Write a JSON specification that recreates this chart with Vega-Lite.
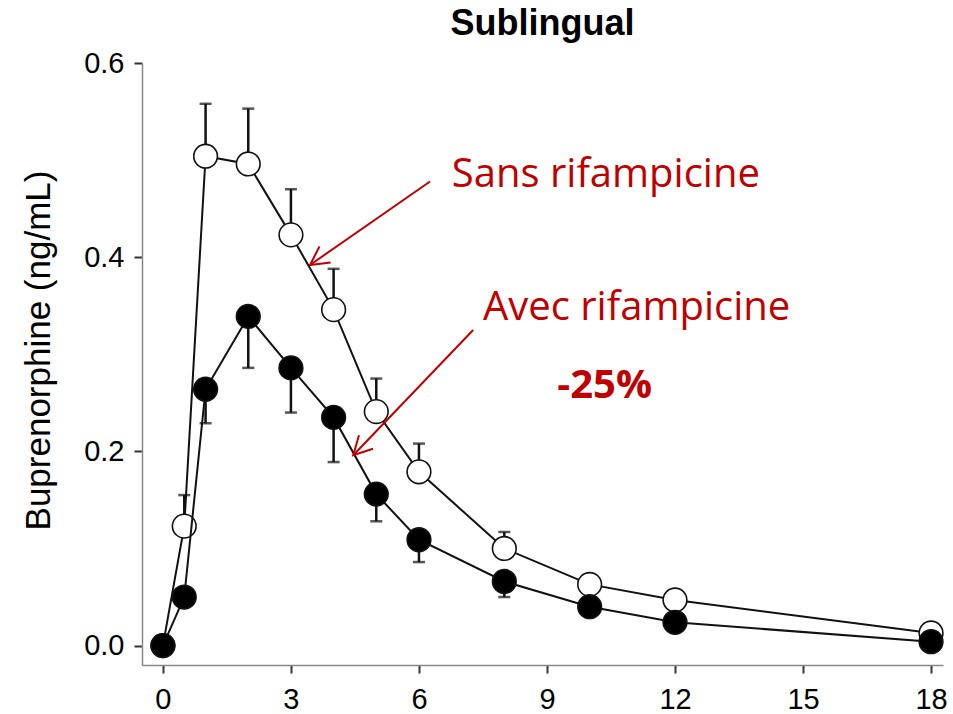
{
  "$schema": "https://vega.github.io/schema/vega-lite/v6.json",
  "width": 801,
  "height": 602,
  "autosize": {"type": "none"},
  "padding": {"left": 142, "top": 63, "right": 10, "bottom": 49},
  "background": "white",
  "config": {
    "view": {"stroke": null},
    "font": "Liberation Sans"
  },
  "title": {
    "text": "Sublingual",
    "font": "Liberation Sans",
    "fontSize": 36,
    "fontWeight": "bold",
    "color": "black",
    "anchor": "middle",
    "frame": "group",
    "baseline": "alphabetic",
    "offset": 30,
    "dy": 52
  },
  "datasets": {
    "pk": [
      {"series": "Sans rifampicine", "t": 0, "v": 0.0, "err": null},
      {"series": "Sans rifampicine", "t": 0.5, "v": 0.123, "err": 0.155},
      {"series": "Sans rifampicine", "t": 1, "v": 0.504, "err": 0.558},
      {"series": "Sans rifampicine", "t": 2, "v": 0.496, "err": 0.553},
      {"series": "Sans rifampicine", "t": 3, "v": 0.423, "err": 0.47},
      {"series": "Sans rifampicine", "t": 4, "v": 0.346, "err": 0.388},
      {"series": "Sans rifampicine", "t": 5, "v": 0.241, "err": 0.275},
      {"series": "Sans rifampicine", "t": 6, "v": 0.179, "err": 0.208},
      {"series": "Sans rifampicine", "t": 8, "v": 0.1, "err": 0.117},
      {"series": "Sans rifampicine", "t": 10, "v": 0.063, "err": null},
      {"series": "Sans rifampicine", "t": 12, "v": 0.047, "err": null},
      {"series": "Sans rifampicine", "t": 18, "v": 0.013, "err": null},
      {"series": "Avec rifampicine", "t": 0, "v": 0.0, "err": null},
      {"series": "Avec rifampicine", "t": 0.5, "v": 0.05, "err": null},
      {"series": "Avec rifampicine", "t": 1, "v": 0.264, "err": 0.229},
      {"series": "Avec rifampicine", "t": 2, "v": 0.339, "err": 0.286},
      {"series": "Avec rifampicine", "t": 3, "v": 0.286, "err": 0.24},
      {"series": "Avec rifampicine", "t": 4, "v": 0.235, "err": 0.189},
      {"series": "Avec rifampicine", "t": 5, "v": 0.156, "err": 0.128},
      {"series": "Avec rifampicine", "t": 6, "v": 0.109, "err": 0.086},
      {"series": "Avec rifampicine", "t": 8, "v": 0.066, "err": 0.05},
      {"series": "Avec rifampicine", "t": 10, "v": 0.04, "err": null},
      {"series": "Avec rifampicine", "t": 12, "v": 0.024, "err": null},
      {"series": "Avec rifampicine", "t": 18, "v": 0.004, "err": null}
    ],
    "notes": [
      {"label": "Sans rifampicine", "t": 6.77, "v": 0.472},
      {"label": "Avec rifampicine", "t": 7.5, "v": 0.335},
      {"label": "-25%", "t": 10.35, "v": 0.255}
    ],
    "arrows": [
      {"arrow": "sans", "t0": 6.26, "v0": 0.478, "t1": 3.447, "v1": 0.392},
      {"arrow": "avec", "t0": 7.27, "v0": 0.325, "t1": 4.46, "v1": 0.196}
    ]
  },
  "encoding": {
    "x": {
      "field": "t",
      "type": "quantitative",
      "scale": {"domain": [-0.49, 18.28], "nice": false, "zero": false},
      "axis": {
        "title": null,
        "values": [0, 3, 6, 9, 12, 15, 18],
        "grid": false,
        "labelFont": "Liberation Sans",
        "labelFontSize": 29,
        "labelColor": "black",
        "labelPadding": 12,
        "tickSize": 8,
        "tickWidth": 2,
        "tickColor": "#333333",
        "domainColor": "#888888",
        "domainWidth": 1.5,
        "labelFlush": false
      }
    },
    "y": {
      "field": "v",
      "type": "quantitative",
      "scale": {"domain": [-0.02, 0.6], "nice": false, "zero": false},
      "axis": {
        "title": "Buprenorphine (ng/mL)",
        "titleFont": "Liberation Sans",
        "titleFontSize": 35,
        "titleFontWeight": "normal",
        "titleColor": "black",
        "titlePadding": 27,
        "titleY": 287,
        "values": [0, 0.2, 0.4, 0.6],
        "format": ".1f",
        "grid": false,
        "labelFont": "Liberation Sans",
        "labelFontSize": 29,
        "labelColor": "black",
        "labelPadding": 10,
        "tickSize": 8,
        "tickWidth": 2,
        "tickColor": "#333333",
        "domainColor": "#888888",
        "domainWidth": 1.5,
        "labelFlush": false
      }
    }
  },
  "layer": [
    {
      "data": {"name": "pk"},
      "transform": [{"filter": "datum.series === 'Sans rifampicine'"}],
      "mark": {"type": "line", "color": "#111111", "strokeWidth": 2},
      "encoding": {"order": {"field": "t"}}
    },
    {
      "data": {"name": "pk"},
      "transform": [{"filter": "datum.series === 'Sans rifampicine' && datum.err != null"}],
      "mark": {"type": "rule", "color": "#111111", "strokeWidth": 2.5},
      "encoding": {"y2": {"field": "err"}}
    },
    {
      "data": {"name": "pk"},
      "transform": [{"filter": "datum.series === 'Sans rifampicine' && datum.err != null"}],
      "mark": {"type": "point", "shape": "stroke", "filled": false, "size": 144, "color": "#111111", "strokeWidth": 2.5},
      "encoding": {"y": {"field": "err", "type": "quantitative"}}
    },
    {
      "data": {"name": "pk"},
      "transform": [{"filter": "datum.series === 'Sans rifampicine'"}],
      "mark": {"type": "point", "shape": "circle", "filled": true, "fill": "white", "stroke": "#111111", "strokeWidth": 1.6, "size": 560, "opacity": 1}
    },
    {
      "data": {"name": "pk"},
      "transform": [{"filter": "datum.series === 'Avec rifampicine'"}],
      "mark": {"type": "line", "color": "#111111", "strokeWidth": 2},
      "encoding": {"order": {"field": "t"}}
    },
    {
      "data": {"name": "pk"},
      "transform": [{"filter": "datum.series === 'Avec rifampicine' && datum.err != null"}],
      "mark": {"type": "rule", "color": "#111111", "strokeWidth": 2.5},
      "encoding": {"y2": {"field": "err"}}
    },
    {
      "data": {"name": "pk"},
      "transform": [{"filter": "datum.series === 'Avec rifampicine' && datum.err != null"}],
      "mark": {"type": "point", "shape": "stroke", "filled": false, "size": 144, "color": "#111111", "strokeWidth": 2.5},
      "encoding": {"y": {"field": "err", "type": "quantitative"}}
    },
    {
      "data": {"name": "pk"},
      "transform": [{"filter": "datum.series === 'Avec rifampicine'"}],
      "mark": {"type": "point", "shape": "circle", "filled": true, "fill": "black", "stroke": "#111111", "strokeWidth": 1.6, "size": 560, "opacity": 1}
    },
    {
      "data": {"name": "arrows"},
      "mark": {"type": "rule", "color": "#C00000", "strokeWidth": 2},
      "encoding": {
        "x": {"field": "t0", "type": "quantitative"},
        "y": {"field": "v0", "type": "quantitative"},
        "x2": {"field": "t1"},
        "y2": {"field": "v1"}
      }
    },
    {
      "data": {"name": "arrows"},
      "mark": {
        "type": "point",
        "shape": "M-1,-0.53L0,0L-1,0.53",
        "filled": false,
        "size": 1350,
        "stroke": "#C00000",
        "strokeWidth": 2,
        "opacity": 1
      },
      "encoding": {
        "x": {"field": "t1", "type": "quantitative"},
        "y": {"field": "v1", "type": "quantitative"},
        "angle": {
          "condition": {"test": "datum.arrow === 'sans'", "value": 145},
          "value": 134
        }
      }
    },
    {
      "data": {"name": "notes"},
      "transform": [{"filter": "datum.label !== '-25%'"}],
      "mark": {"type": "text", "font": "Open Sans", "fontSize": 40, "color": "#C00000", "align": "left", "baseline": "alphabetic"},
      "encoding": {"text": {"field": "label"}}
    },
    {
      "data": {"name": "notes"},
      "transform": [{"filter": "datum.label === '-25%'"}],
      "mark": {"type": "text", "font": "Open Sans", "fontSize": 40, "fontWeight": "bold", "color": "#C00000", "align": "center", "baseline": "alphabetic"},
      "encoding": {"text": {"field": "label"}}
    }
  ]
}
